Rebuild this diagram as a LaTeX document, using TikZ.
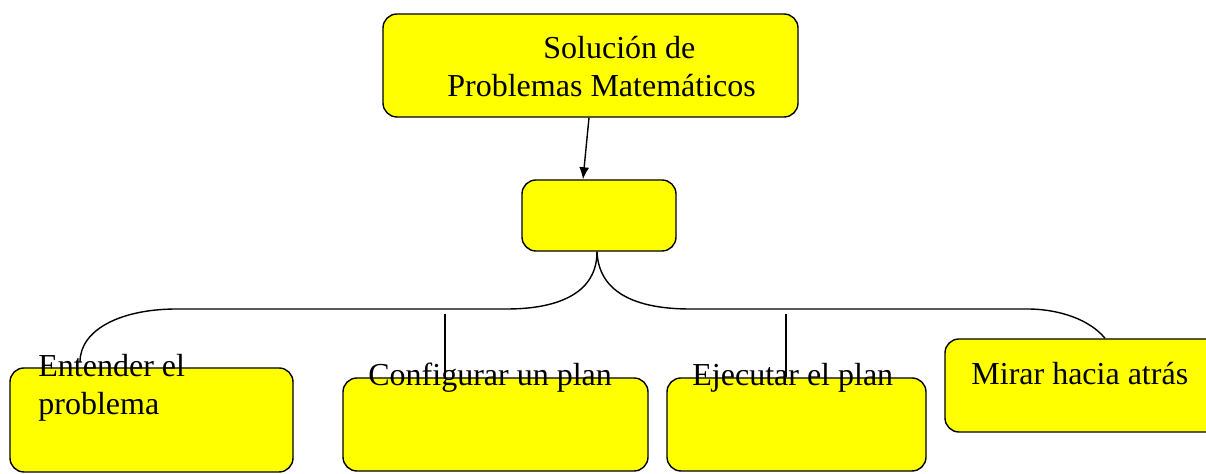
\documentclass[tikz,border=0pt]{standalone}
\usepackage{fontspec}
\setmainfont{Liberation Serif}
\usetikzlibrary{arrows.meta}
\definecolor{amarillo}{RGB}{255,255,0}

\begin{document}
\begin{tikzpicture}[x=0.5pt, y=-0.5pt,
	caja/.style={draw, line width=0.7pt, fill=amarillo, rounded corners=7pt, inner sep=0pt},
	texto/.style={anchor=base west, inner sep=0pt, font=\fontsize{16}{19}\selectfont},
	rama/.style={line width=0.7pt}]
	\useasboundingbox (0,0) rectangle (1206,474);

	\node [caja, minimum width=207.5pt, minimum height=51.5pt] (sol) at (590.5,65.5) {};
	\node [caja, minimum width=77pt, minimum height=35.5pt] (nucleo) at (599,215.5) {};
	\node [caja, minimum width=141.5pt, minimum height=52pt] (entender) at (151.5,420) {};
	\node [caja, minimum width=152.5pt, minimum height=46.5pt] (configurar) at (495.5,424.5) {};
	\node [caja, minimum width=129.5pt, minimum height=46.5pt] (ejecutar) at (796.5,424.5) {};
	\node [caja, minimum width=138.5pt, minimum height=46.5pt] (mirar) at (1083.5,385.5) {};

	\node [texto] (solA) at (543,59) {Solución de};
	\node [texto] (solB) at (447,97) {Problemas Matemáticos};
	\node [texto] (entA) at (38,377) {Entender el};
	\node [texto] (entB) at (38,415) {problema};
	\node [texto] (confT) at (368,386) {Configurar un plan};
	\node [texto] (ejeT) at (692,386) {Ejecutar el plan};
	\node [texto] (mirT) at (971,385) {Mirar hacia atrás};

	\draw [line width=0.7pt, -{Latex[length=6pt,width=5pt]}] ([xshift=-0.75pt]sol.south) -- ([xshift=-8pt]nucleo.north);

	\coordinate (finEnt) at (80,362);
	\coordinate (pieConf) at (445,314);
	\coordinate (pieEje) at (786,314);
	\draw [rama] ([xshift=-1pt]nucleo.south) .. controls (597,300) and (545,309) .. (507,309)
		-- (177,309) .. controls (120,309) and (80,330) .. (finEnt);
	\draw [rama] ([xshift=-1pt]nucleo.south) .. controls (599,300) and (650,309) .. (690,309)
		-- (1027,309) .. controls (1060,309) and (1090,320) .. ([xshift=10.75pt]mirar.north);
	\draw [rama] (pieConf) -- (pieConf |- configurar.north);
	\draw [rama] (pieEje) -- (pieEje |- ejecutar.north);
\end{tikzpicture}
\end{document}
